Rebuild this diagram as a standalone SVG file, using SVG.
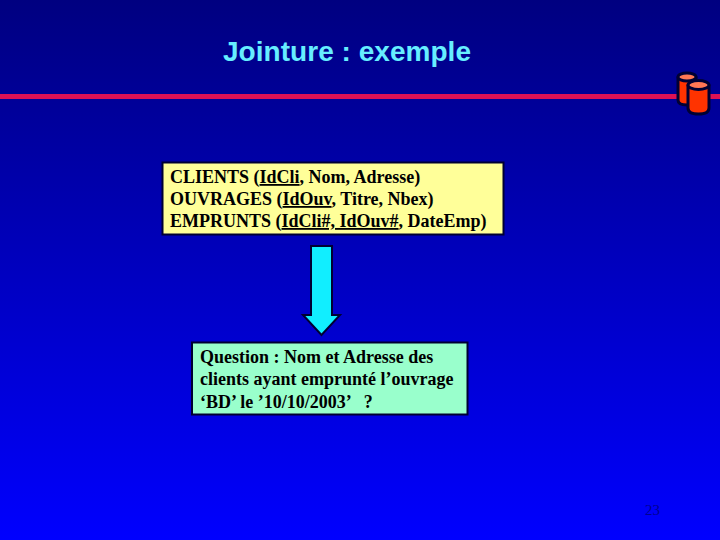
<svg xmlns="http://www.w3.org/2000/svg" width="720" height="540" viewBox="0 0 720 540">
<style>
.b{font-family:"Liberation Serif","Times New Roman",serif;font-size:18px;font-weight:bold;fill:#000}
.box{stroke:#000033;stroke-width:2}
.cyl{fill:#ff3300;stroke:#000033;stroke-width:3}
.top{fill:#ff7755;stroke:#000033;stroke-width:3}
</style>
<defs><linearGradient id="bg" x1="0" y1="0" x2="0" y2="1"><stop offset="0" stop-color="#000080"/><stop offset="1" stop-color="#0000ff"/></linearGradient></defs>
<rect id="background" width="720" height="540" fill="url(#bg)"/>
<rect id="rule" x="0" y="94" width="720" height="5" fill="#dd1155"/>
<text id="title" x="223" y="61" font-family="Liberation Sans,Arial,sans-serif" font-size="28" font-weight="bold" fill="#66eeff" textLength="248">Jointure : exemple</text>
<g id="db">
<path class="cyl" d="M678 78V100Q678 105 687 105Q696 105 696 100V78Z"/>
<ellipse class="top" cx="687" cy="77" rx="9" ry="4"/>
<path class="cyl" d="M688 86V108Q688 114 698.500 114Q709 114 709 108V86Z"/>
<ellipse class="top" cx="698.500" cy="85" rx="10.500" ry="4.500"/>
</g>
<g id="clients-box">
<rect class="box" x="162.500" y="162.500" width="341" height="72" fill="#ffff99"/>
<text class="b" x="170" y="183">CLIENTS (<tspan text-decoration="underline">IdCli</tspan>, Nom, Adresse)</text>
<text class="b" x="170" y="205">OUVRAGES (<tspan text-decoration="underline">IdOuv</tspan>, Titre, Nbex)</text>
<text class="b" x="170" y="227">EMPRUNTS (<tspan text-decoration="underline">IdCli#, IdOuv#</tspan>, DateEmp)</text>
</g>
<g id="connectors">
<path d="M311 246H332V315H340L321.500 335L303 315H311Z" fill="#11eeff" stroke="#000033" stroke-width="2"/>
</g>
<g id="question-box">
<rect class="box" x="192" y="342.500" width="275.500" height="72" fill="#99ffcc"/>
<text class="b" x="200" y="363">Question : Nom et Adresse des</text>
<text class="b" x="200" y="385">clients ayant emprunté l’ouvrage</text>
<text class="b" x="200" y="408" xml:space="preserve">‘BD’ le ’10/10/2003’   ?</text>
</g>
<text id="page" x="645" y="515" font-family="Liberation Serif,serif" font-size="15" fill="#000090">23</text>
</svg>
